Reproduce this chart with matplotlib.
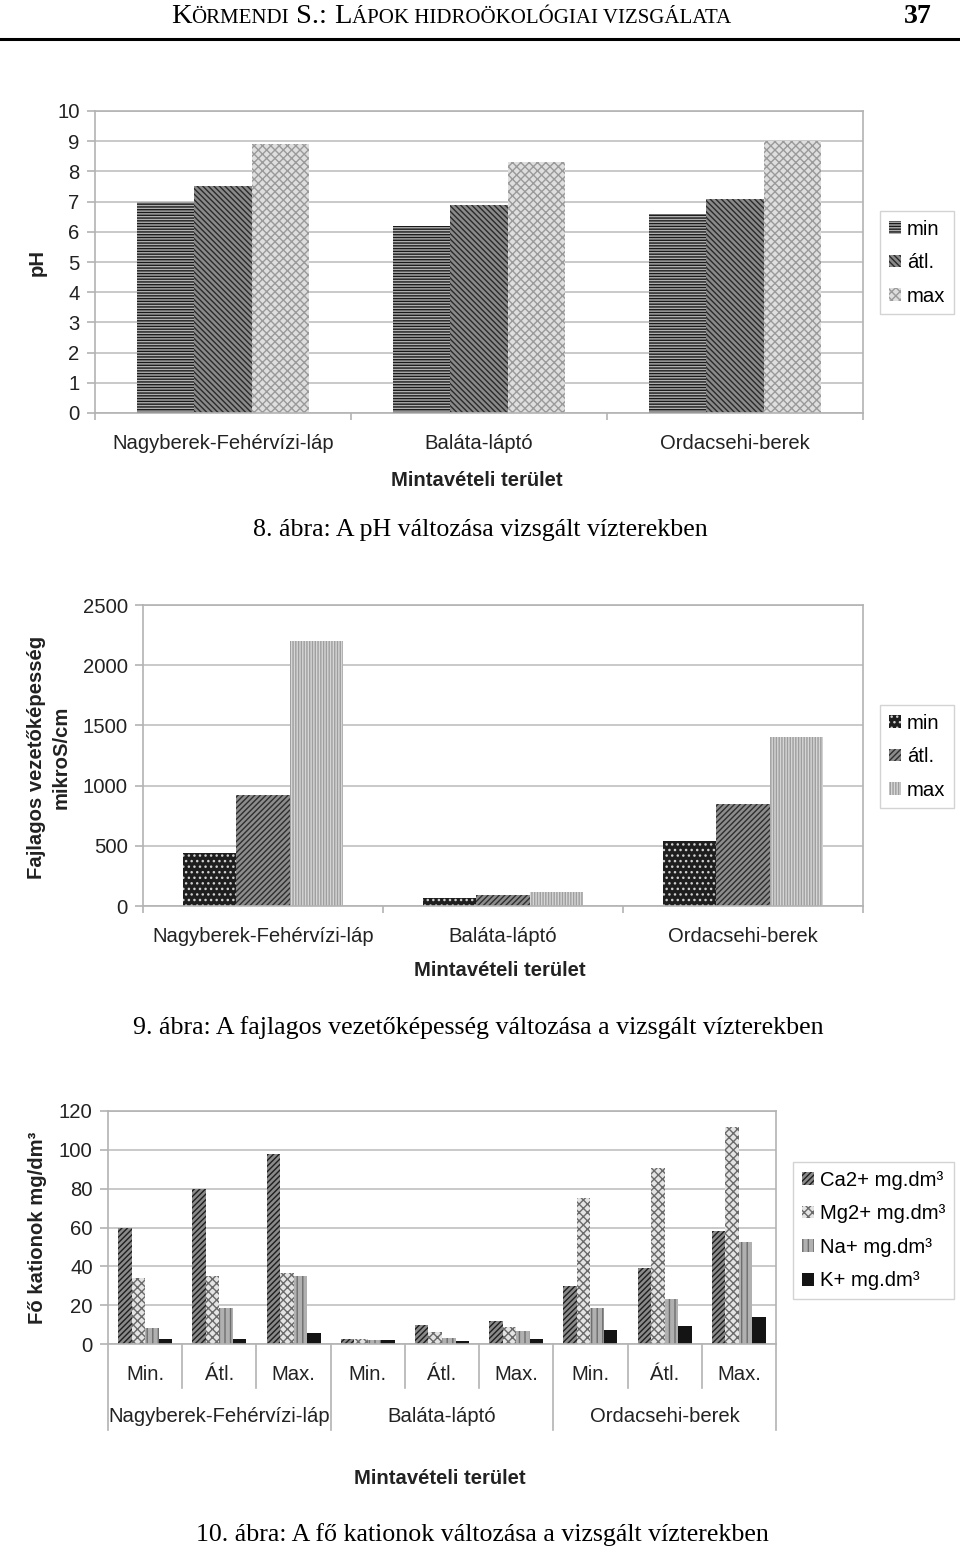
import numpy as np
import matplotlib
matplotlib.use("Agg")
from matplotlib import pyplot as plt
from matplotlib import transforms

# ---- data ----
sites = ["Nagyberek-Fehérvízi-láp", "Baláta-láptó", "Ordacsehi-berek"]
series3 = ["min", "átl.", "max"]

ph_min = [7.0, 6.2, 6.6]
ph_atl = [7.5, 6.9, 7.1]
ph_max = [8.9, 8.3, 9.0]

ec_min = [440, 65, 540]
ec_atl = [920, 90, 850]
ec_max = [2200, 120, 1400]

stat_labels = ["Min.", "Átl.", "Max."]
cation_names = ["Ca2+ mg.dm³", "Mg2+ mg.dm³", "Na+ mg.dm³", "K+ mg.dm³"]
ca = [60, 80, 98, 2.5, 10, 12, 30, 39, 58]
mg = [34, 35, 36.5, 2.5, 6, 9, 75, 90.5, 112]
na = [8, 18.5, 35, 2, 3.3, 6.5, 18.6, 23.4, 52.5]
k = [2.5, 2.5, 5.5, 2, 1.8, 2.4, 7.1, 9.5, 14]

W, H = 960, 1552
SANS = "Liberation Sans"
SERIF = "Liberation Serif"
GRID = "#c9c9c9"
SPINE = "#b3b3b3"
TXT = "#222222"
FS = 14.6
CAP = 18.6

plt.rcParams["font.family"] = [SANS, "DejaVu Sans"]
plt.rcParams["hatch.linewidth"] = 1.0

fig = plt.figure(figsize=(W / 100, H / 100), dpi=100)


def px_axes(l, t, r, b):
    return fig.add_axes([l / W, 1 - b / H, (r - l) / W, (b - t) / H])


def fx(x):
    return x / W


def fy(y):
    return 1 - y / H


def style_axes(ax):
    ax.set_axisbelow(True)
    ax.yaxis.grid(True, color=GRID, lw=1.4)
    for s in ax.spines.values():
        s.set_color(SPINE)
        s.set_linewidth(1.2)
    ax.tick_params(axis="y", direction="out", length=6, width=1.2, color=SPINE,
                   labelsize=FS, labelcolor=TXT, pad=5)


def legend(ax, handles, x, y):
    lg = ax.legend(handles=handles, loc="upper left", bbox_to_anchor=(fx(x), fy(y)),
                   bbox_transform=fig.transFigure, fontsize=FS, frameon=True,
                   fancybox=False, edgecolor="#c8c8c8", handlelength=0.6,
                   handleheight=0.6, handletextpad=0.3, labelspacing=0.72,
                   borderpad=0.42, borderaxespad=0)
    lg.get_frame().set_linewidth(1.0)
    return lg


# ---- header ----
def small_caps(parts, xc, y_base, big, small):
    r = fig.canvas.get_renderer()
    texts = []
    for s, is_big in parts:
        t = fig.text(0, fy(y_base), s, fontsize=big if is_big else small,
                     family=SERIF, va="baseline", ha="left")
        texts.append(t)
    widths = [t.get_window_extent(r).width for t in texts]
    x = xc - sum(widths) / 2
    for t, w in zip(texts, widths):
        t.set_x(fx(x))
        x += w


small_caps([("K", True), ("ÖRMENDI", False), (" S.: ", True), ("L", True),
            ("ÁPOK HIDROÖKOLÓGIAI VIZSGÁLATA", False)], 451, 23, 20.5, 15)
fig.text(fx(918), fy(23), "37", fontsize=20, family=SERIF, weight="bold",
         ha="center", va="baseline")
fig.add_artist(plt.Line2D([0, 1], [fy(39), fy(39)], color="black", lw=2.2,
                          transform=fig.transFigure))

# ---- chart 1: pH ----
x = np.arange(len(sites))
bw = 0.223
ax1 = px_axes(95, 111, 863, 413)
style_axes(ax1)
b1 = ax1.bar(x - bw, ph_min, bw, facecolor="#b0b0b0", edgecolor="#1a1a1a",
             hatch="------", lw=0, label=series3[0])
b2 = ax1.bar(x, ph_atl, bw, facecolor="#8a8a8a", edgecolor="#2a2a2a",
             hatch="\\\\\\\\\\\\", lw=0, label=series3[1])
b3 = ax1.bar(x + bw, ph_max, bw, facecolor="#dedede", edgecolor="#9a9a9a",
             hatch="xxxx", lw=0, label=series3[2])
ax1.set_xlim(-0.5, len(sites) - 0.5)
ax1.set_ylim(0, 10)
ax1.set_yticks(range(0, 11))
ax1.set_xticks(np.arange(-0.5, len(sites)), labels=[])
ax1.tick_params(axis="x", direction="out", length=5, width=1.2, color=SPINE)
ax1.set_xticks(x, labels=sites, minor=True)
ax1.tick_params(axis="x", which="minor", length=0, pad=15, labelsize=FS,
                labelcolor=TXT)
legend(ax1, [b1, b2, b3], 880, 211)
fig.text(fx(477), fy(480), "Mintavételi terület", fontsize=FS, weight="bold",
         ha="center", va="center", color=TXT)
fig.text(fx(37), fy(262), "pH", fontsize=FS, weight="bold", rotation=90,
         ha="center", va="center", color=TXT)
fig.text(fx(480), fy(530), "8. ábra: A pH változása vizsgált vízterekben",
         fontsize=CAP, family=SERIF, ha="center", va="center")

# ---- chart 2: conductivity ----
ax2 = px_axes(143, 605, 863, 906)
style_axes(ax2)
c1 = ax2.bar(x - bw, ec_min, bw, facecolor="#1e1e1e", edgecolor="#d0d0d0",
             hatch="...", lw=0, label=series3[0])
c2 = ax2.bar(x, ec_atl, bw, facecolor="#8c8c8c", edgecolor="#2e2e2e",
             hatch="//////", lw=0, label=series3[1])
c3 = ax2.bar(x + bw, ec_max, bw, facecolor="#d6d6d6", edgecolor="#9e9e9e",
             hatch="||||||", lw=0, label=series3[2])
ax2.set_xlim(-0.5, len(sites) - 0.5)
ax2.set_ylim(0, 2500)
ax2.set_yticks(range(0, 2501, 500))
ax2.set_xticks(np.arange(-0.5, len(sites)), labels=[])
ax2.tick_params(axis="x", direction="out", length=5, width=1.2, color=SPINE)
ax2.set_xticks(x, labels=sites, minor=True)
ax2.tick_params(axis="x", which="minor", length=0, pad=15, labelsize=FS,
                labelcolor=TXT)
legend(ax2, [c1, c2, c3], 880, 705)
fig.text(fx(500), fy(971), "Mintavételi terület", fontsize=FS, weight="bold",
         ha="center", va="center", color=TXT)
fig.text(fx(49), fy(757), "Fajlagos vezetőképesség\nmikroS/cm", fontsize=FS,
         weight="bold", rotation=90, ha="center", va="center", color=TXT,
         multialignment="center", linespacing=1.4)
fig.text(fx(478), fy(1028),
         "9. ábra: A fajlagos vezetőképesség változása a vizsgált vízterekben",
         fontsize=CAP, family=SERIF, ha="center", va="center")

# ---- chart 3: cations ----
n3 = len(ca)
x3 = np.arange(n3)
cw = 0.182
ax3 = px_axes(108, 1111, 776, 1344)
style_axes(ax3)
styles3 = [
    dict(facecolor="#8a8a8a", edgecolor="#1e1e1e", hatch="//////"),
    dict(facecolor="#e4e4e4", edgecolor="#6a6a6a", hatch="xxxx"),
    dict(facecolor="#b0b0b0", edgecolor="#6e6e6e", hatch="|||"),
    dict(facecolor="#141414", edgecolor="#141414", hatch=None),
]
handles3 = []
for i, (vals, name, st) in enumerate(zip([ca, mg, na, k], cation_names, styles3)):
    h = ax3.bar(x3 + (i - 1.5) * cw, vals, cw, lw=0, label=name, **st)
    handles3.append(h)
ax3.set_xlim(-0.5, n3 - 0.5)
ax3.set_ylim(0, 120)
ax3.set_yticks(range(0, 121, 20))
ax3.set_xticks([])
legend(ax3, handles3, 793, 1162)

# two-level category axis
trans = transforms.blended_transform_factory(ax3.transData, ax3.transAxes)
ax_h = 1344 - 1111
for b in np.arange(-0.5, n3):
    group_edge = (b + 0.5) % 3 == 0
    depth = 86 if group_edge else 44
    ax3.plot([b, b], [0, -depth / ax_h], color=SPINE, lw=1.2, transform=trans,
             clip_on=False)
for i in x3:
    ax3.text(i, -30 / ax_h, stat_labels[i % 3], transform=trans, ha="center",
             va="center", fontsize=FS, color=TXT)
for g, name in enumerate(sites):
    ax3.text(3 * g + 1, -72 / ax_h, name, transform=trans, ha="center",
             va="center", fontsize=FS, color=TXT)

fig.text(fx(440), fy(1478), "Mintavételi terület", fontsize=FS, weight="bold",
         ha="center", va="center", color=TXT)
fig.text(fx(38), fy(1228), "Fő kationok mg/dm³", fontsize=FS, weight="bold",
         rotation=90, ha="center", va="center", color=TXT)
fig.text(fx(482), fy(1535), "10. ábra: A fő kationok változása a vizsgált vízterekben",
         fontsize=CAP, family=SERIF, ha="center", va="center")

fig.savefig("out.png", dpi=100)
